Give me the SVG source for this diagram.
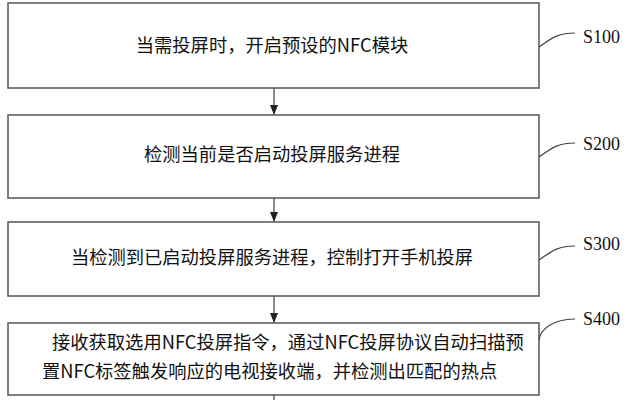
<svg xmlns="http://www.w3.org/2000/svg" width="627" height="400" viewBox="0 0 627 400">
<style>
.b{fill:#fff;stroke:#555;stroke-width:1.5}
.t{font-family:"Noto Sans CJK SC","Liberation Serif",serif;font-size:18.3px;fill:#111}
.s{font-family:"Liberation Serif",serif;font-size:18px;fill:#111}
.c{fill:none;stroke:#444;stroke-width:1.2}
</style>
<defs><marker id="a" markerWidth="10" markerHeight="8" refX="9" refY="4" orient="auto" markerUnits="userSpaceOnUse"><path d="M0,0L10,4L0,8Z" fill="#222"/></marker></defs>
<rect width="627" height="400" fill="#fff"/>
<g id="n1"><rect class="b" x="8" y="3" width="531" height="85"/><text class="t" x="272" y="52" text-anchor="middle">当需投屏时，开启预设的NFC模块</text></g>
<g id="n2"><rect class="b" x="8" y="115" width="531" height="83"/><text class="t" x="272" y="161" text-anchor="middle">检测当前是否启动投屏服务进程</text></g>
<g id="n3"><rect class="b" x="8" y="222" width="531" height="74"/><text class="t" x="272" y="264" text-anchor="middle">当检测到已启动投屏服务进程，控制打开手机投屏</text></g>
<g id="n4"><rect class="b" x="8" y="323" width="531" height="72"/><text class="t" x="52" y="349">接收获取选用NFC投屏指令，通过NFC投屏协议自动扫描预</text><text class="t" x="42" y="378">置NFC标签触发响应的电视接收端，并检测出匹配的热点</text></g>
<g id="labels">
<text class="s" x="583" y="43">S100</text><text class="s" x="583" y="150">S200</text><text class="s" x="583" y="250">S300</text><text class="s" x="583" y="325">S400</text>
</g>
<g id="connectors">
<path class="c" d="M274,88V114" marker-end="url(#a)"/>
<path class="c" d="M274,198V221" marker-end="url(#a)"/>
<path class="c" d="M274,296V322" marker-end="url(#a)"/>
<path class="c" d="M274,395V400"/>
<path class="c" d="M539,47C552,38 558,33 575,33"/>
<path class="c" d="M539,157C552,148 558,143 575,143"/>
<path class="c" d="M539,260C552,251 558,246 575,246"/>
<path class="c" d="M539,340C540,330 552,319 575,319"/>
</g>
</svg>
